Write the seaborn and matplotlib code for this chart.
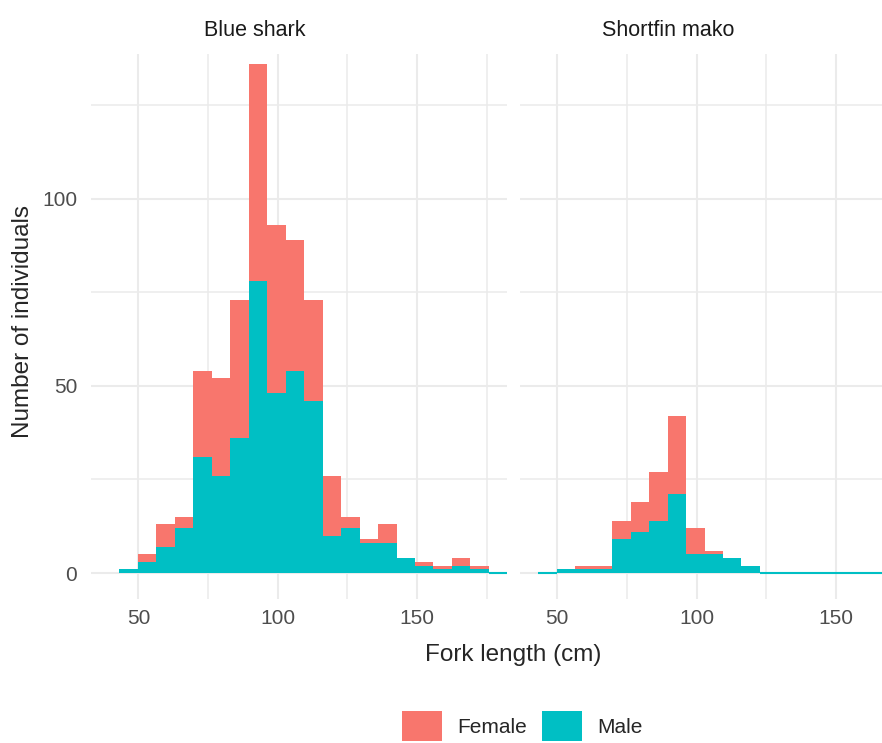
import numpy as np
import pandas as pd
import matplotlib
matplotlib.use("Agg")
import matplotlib.pyplot as plt
from matplotlib.patches import Patch
from matplotlib.ticker import MultipleLocator
import matplotlib.colors as mcolors
import seaborn as sns

# data (counts per bin, stacked Female on Male)
species = ["Blue shark", "Shortfin mako"]
sexes = ["Female", "Male"]
sex_colors = ["#F8766D", "#00BFC4"]

bin_start = 43.2
bin_width = 6.63

blue_female = [0, 2, 6, 3, 23, 26, 37, 58, 45, 35, 27, 16, 3, 1, 5, 0, 1, 1, 2, 1, 0, 0]
blue_male = [1, 3, 7, 12, 31, 26, 36, 78, 48, 54, 46, 10, 12, 8, 8, 4, 2, 1, 2, 1, 0, 0]
mako_female = [0, 0, 1, 1, 5, 8, 13, 21, 7, 1, 0, 0, 0, 0, 0, 0, 0, 0, 0, 0, 0, 0]
mako_male = [0, 1, 1, 1, 9, 11, 14, 21, 5, 5, 4, 2, 0, 0, 0, 0, 0, 0, 0, 0, 0, 0]

x_ticks = [50, 100, 150]
y_ticks = [0, 50, 100]

# build long table
edges = bin_start + bin_width * np.arange(len(blue_male) + 1)
centers = edges[:-1] + bin_width / 2
rows = []
for sp, fem, mal in [(species[0], blue_female, blue_male), (species[1], mako_female, mako_male)]:
    for sex, vals in [("Female", fem), ("Male", mal)]:
        for c, v in zip(centers, vals):
            rows.append({"species": sp, "sex": sex, "length": c, "n": v})
df = pd.DataFrame(rows)

sns.set_theme(style="white")
plt.rcParams["font.family"] = ["Liberation Sans", "DejaVu Sans"]

fig = plt.figure(figsize=(8.82, 7.43), dpi=100)
W, H = 882, 743
bottom = (H - 598.5) / H
height = 544.5 / H
ax1 = fig.add_axes([90.7 / W, bottom, 416 / W, height])
ax2 = fig.add_axes([520 / W, bottom, 416 / W, height])

palette = dict(zip(sexes, sex_colors))
male_rgb = mcolors.to_rgb(sex_colors[1])

for ax, sp, xlim in [(ax1, species[0], (32.9, 182.2)), (ax2, species[1], (36.6, 186.0))]:
    sub = df[df["species"] == sp]
    sns.histplot(data=sub, x="length", weights="n", hue="sex", hue_order=sexes,
                 bins=edges.tolist(), multiple="stack", palette=palette, alpha=1,
                 linewidth=0, legend=False, ax=ax)
    # zero-height bars show as a thin line, like the reference
    for p in ax.patches:
        if p.get_height() == 0 and np.allclose(p.get_facecolor()[:3], male_rgb):
            p.set_edgecolor(sex_colors[1])
            p.set_linewidth(1.5)
    ax.set_xlim(*xlim)
    ax.set_ylim(-6.8, 138.6)
    ax.set_xticks(x_ticks)
    ax.set_yticks(y_ticks)
    ax.xaxis.set_minor_locator(MultipleLocator(25))
    ax.yaxis.set_minor_locator(MultipleLocator(25))
    ax.grid(which="major", color="#EBEBEB", linewidth=1.5)
    ax.grid(which="minor", color="#EBEBEB", linewidth=1.1)
    ax.set_axisbelow(True)
    for s in ax.spines.values():
        s.set_visible(False)
    ax.tick_params(which="both", length=0, labelsize=15, labelcolor="#4D4D4D")
    ax.tick_params(axis="x", pad=7.5)
    ax.tick_params(axis="y", pad=9.7)
    ax.set_xlabel("")
    ax.set_ylabel("")
    ax.set_facecolor("white")

ax2.tick_params(axis="y", labelleft=False)

fig.text(254.7 / W, (H - 36.4) / H, species[0], ha="center", va="baseline",
         fontsize=15.5, color="#1A1A1A")
fig.text(667.8 / W, (H - 36.4) / H, species[1], ha="center", va="baseline",
         fontsize=15.5, color="#1A1A1A")

fig.text(513 / W, (H - 655) / H, "Fork length (cm)", ha="center", va="center", fontsize=17.5)
fig.text(23.3 / W, (H - 321.7) / H, "Number of individuals", ha="center", va="center",
         rotation=90, fontsize=17.5)

handles = [Patch(facecolor=c, edgecolor="none") for c in sex_colors]
fig.legend(handles, sexes, loc="center", bbox_to_anchor=(522.2 / W, (H - 726) / H),
           ncol=2, frameon=False, fontsize=15, handlelength=1.9, handleheight=1.9,
           handletextpad=0.72, columnspacing=0.75, borderpad=0)

fig.savefig("out.png", dpi=100)
